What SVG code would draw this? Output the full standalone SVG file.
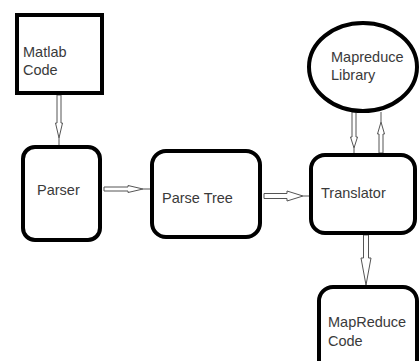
<svg xmlns="http://www.w3.org/2000/svg" width="420" height="361" viewBox="0 0 420 361">
<style>
.box{fill:#fff;stroke:#000;stroke-width:4}
.lbl{font-family:"Liberation Sans",Arial,sans-serif;font-size:14.5px;fill:#3a3a3a}
.arr{fill:#fff;stroke:#555;stroke-width:1;stroke-linejoin:miter}
.tail{stroke:#555;stroke-width:1;fill:none}
</style>
<rect width="420" height="361" fill="#fff"/>
<g id="connectors">
<polygon class="arr" points="57,95 61,95 61,123 62.5,123 59,138 55.5,123 57,123"/>
<line class="tail" x1="59" y1="138" x2="59" y2="145"/>
<polygon class="arr" points="104,187 128,187 128,185.5 143,189 128,192.5 128,191 104,191"/>
<line class="tail" x1="143" y1="189" x2="150" y2="189"/>
<polygon class="arr" points="264,193.5 287,193.5 287,191 303,196 287,201 287,198.5 264,198.5"/>
<line class="tail" x1="303" y1="196" x2="309" y2="196"/>
<polygon class="arr" points="352,112 356,112 356,137 357.5,137 354,148 350.5,137 352,137"/>
<line class="tail" x1="354" y1="148" x2="354" y2="153"/>
<polygon class="arr" points="379,153 383,153 383,134 384.5,134 381,122 377.5,134 379,134"/>
<line class="tail" x1="381" y1="122" x2="381" y2="112"/>
<polygon class="arr" points="363.5,235 368.5,235 368.5,258 371,258 366,285 361,258 363.5,258"/>
</g>
<g id="matlab-code">
<rect class="box" x="17" y="15" width="85" height="78"/>
<text class="lbl" x="23" y="57">Matlab</text>
<text class="lbl" x="23" y="75">Code</text>
</g>
<g id="parser">
<rect class="box" x="23" y="147" width="77" height="93" rx="12"/>
<text class="lbl" x="37" y="195">Parser</text>
</g>
<g id="parse-tree">
<rect class="box" x="152" y="151" width="108" height="86" rx="14"/>
<text class="lbl" x="162" y="203">Parse Tree</text>
</g>
<g id="translator">
<rect class="box" x="311" y="155" width="104" height="78" rx="14"/>
<text class="lbl" x="321" y="198">Translator</text>
</g>
<g id="mapreduce-library">
<ellipse class="box" cx="363" cy="67" rx="54" ry="44"/>
<text class="lbl" x="331" y="62">Mapreduce</text>
<text class="lbl" x="331" y="80">Library</text>
</g>
<g id="mapreduce-code">
<rect class="box" x="319" y="287" width="98" height="90" rx="14"/>
<text class="lbl" x="328" y="327">MapReduce</text>
<text class="lbl" x="328" y="346">Code</text>
</g>
</svg>
